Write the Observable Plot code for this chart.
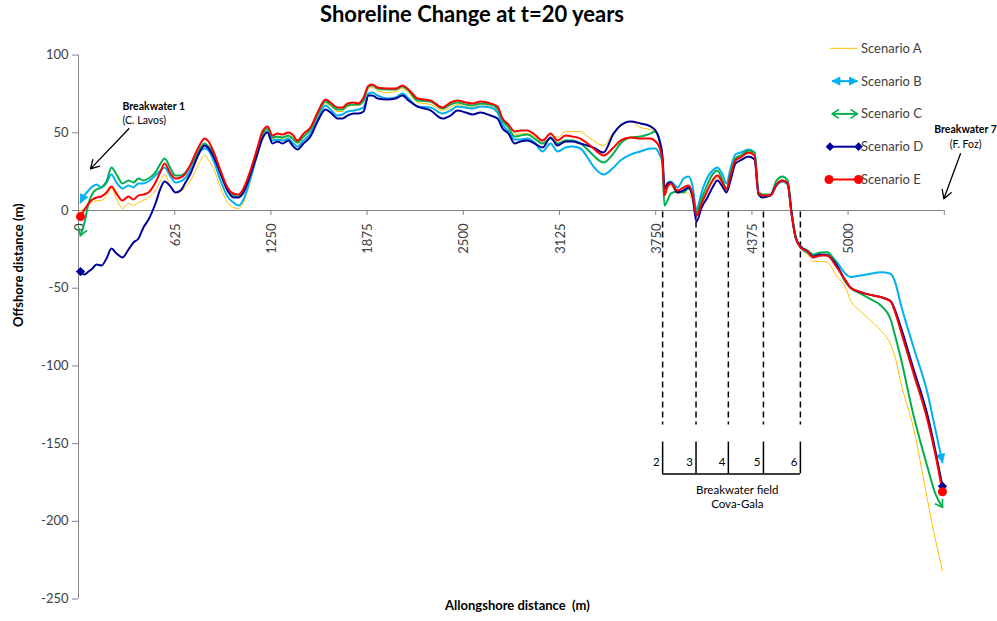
<!DOCTYPE html>
<html>
<head>
<meta charset="utf-8">
<script src="https://cdn.jsdelivr.net/npm/d3@7"></script>
<script src="https://cdn.jsdelivr.net/npm/@observablehq/plot@0.6"></script>
<style>
  html, body { margin: 0; padding: 0; background: #fff; }
  #title { width: 944px; height: 40px; line-height: 40px; text-align: center;
           font: bold 22px Lato, "Open Sans", sans-serif; color: #000; }
  #chart svg { display: block; overflow: visible; }
</style>
</head>
<body>
<div id="title">Shoreline Change at t=20 years</div>
<div id="chart"></div>
<script>
// Alongshore position of each profile (m)
const distance = [
  13, 39, 65, 91, 117, 149, 182, 214, 247, 286,
  325, 357, 390, 422, 455, 500, 533, 559, 598, 630,
  663, 695, 728, 760, 793, 819, 845, 877, 923, 968,
  1007, 1040, 1072, 1117, 1163, 1195, 1228, 1260, 1293, 1325,
  1364, 1390, 1423, 1462, 1507, 1553, 1605, 1637, 1683, 1715,
  1748, 1787, 1819, 1852, 1884, 1910, 1943, 2008, 2060, 2105,
  2144, 2203, 2287, 2365, 2417, 2462, 2514, 2560, 2612, 2677,
  2722, 2755, 2794, 2833, 2872, 2917, 2963, 3015, 3067, 3112,
  3164, 3209, 3261, 3307, 3346, 3411, 3476, 3521, 3586, 3651,
  3716, 3749, 3775, 3794, 3807, 3827, 3847, 3892, 3931, 3963,
  3989, 4015, 4048, 4086, 4119, 4151, 4184, 4210, 4236, 4268,
  4301, 4353, 4392, 4418, 4444, 4496, 4535, 4574, 4607, 4633,
  4659, 4691, 4736, 4775, 4821, 4866, 4918, 4983, 5016, 5081,
  5146, 5211, 5276, 5308, 5341, 5425, 5516, 5568, 5613
];

// Offshore shoreline position after 20 years (m), one array per scenario
const scenarioA = [
  0, 1.3, 3.2, 5.1, 6.4, 6.4, 9.7, 14.2, 7.7, 1.3,
  4.5, 3.2, 5.1, 6.4, 8.4, 12.9, 19.3, 23.2, 15.4, 11.6,
  12.2, 14.8, 19.3, 25.7, 32.2, 35.4, 32.2, 27.0, 14.8, 5.1,
  1.9, 1.3, 5.1, 18.7, 36.0, 47.6, 51.5, 46.3, 47.0, 46.3,
  47.6, 45.7, 43.1, 47.0, 51.5, 60.5, 68.9, 66.9, 63.7, 63.7,
  66.9, 67.6, 67.6, 70.1, 78.5, 79.2, 77.2, 75.9, 76.6, 78.5,
  75.9, 69.5, 68.2, 64.4, 66.3, 68.2, 66.9, 66.3, 68.2, 66.9,
  64.4, 57.9, 53.4, 48.9, 49.5, 49.5, 47.6, 45.7, 48.9, 47.0,
  50.8, 50.8, 50.8, 47.6, 45.0, 41.8, 50.2, 54.7, 57.3, 53.4,
  52.1, 50.2, 45.0, 33.5, 11.6, 14.2, 16.1, 10.9, 11.6, 10.9,
  6.4, -1.3, 6.4, 12.2, 18.0, 21.2, 17.4, 12.9, 21.9, 31.5,
  34.1, 36.7, 35.4, 11.6, 9.7, 10.3, 17.4, 19.3, 16.1, -3.2,
  -18.0, -24.4, -28.3, -32.8, -32.8, -33.4, -41.1, -49.5, -57.8, -64.9,
  -70.7, -77.1, -86.1, -95.1, -109.9, -140.1, -186.4, -212.1, -231.4
];
const scenarioB = [
  5.1, 9.7, 12.9, 15.4, 16.7, 14.8, 18.0, 23.2, 18.0, 14.2,
  16.1, 14.8, 17.4, 17.4, 18.7, 22.5, 25.7, 27.7, 21.9, 18.0,
  18.7, 21.2, 26.4, 32.2, 38.6, 39.9, 38.6, 32.2, 19.3, 9.0,
  5.1, 3.2, 7.1, 20.6, 36.7, 47.6, 50.8, 45.0, 45.7, 45.0,
  46.3, 43.8, 41.2, 45.0, 49.5, 58.6, 67.6, 65.0, 61.1, 61.8,
  63.7, 64.4, 65.0, 66.3, 75.3, 75.9, 74.0, 72.1, 72.7, 75.3,
  72.1, 66.9, 66.3, 62.4, 64.4, 66.9, 66.3, 65.6, 66.9, 66.3,
  63.1, 55.3, 50.8, 45.7, 45.7, 46.3, 43.8, 38.0, 43.1, 38.0,
  40.5, 41.2, 39.9, 34.1, 28.3, 23.2, 27.7, 32.2, 36.0, 38.0,
  39.9, 39.9, 36.0, 30.9, 12.9, 17.4, 18.7, 14.8, 20.6, 21.9,
  16.1, 0.6, 11.6, 21.2, 25.7, 27.7, 23.2, 17.4, 27.0, 36.0,
  37.3, 39.3, 37.3, 11.6, 9.7, 9.7, 16.1, 18.7, 16.7, -1.9,
  -16.7, -23.8, -27.0, -30.2, -28.9, -28.3, -32.1, -40.7, -42.8, -41.8,
  -40.7, -39.8, -40.7, -46.9, -59.8, -88.0, -117.6, -141.4, -162.0
];
const scenarioC = [
  -16.1, -7.7, 4.5, 10.9, 13.5, 14.8, 18.7, 27.7, 23.2, 17.4,
  19.3, 18.0, 20.6, 19.3, 20.6, 24.5, 30.2, 33.5, 27.0, 22.5,
  22.5, 24.5, 29.0, 34.1, 40.5, 43.1, 41.2, 36.7, 23.8, 14.2,
  9.7, 9.0, 12.2, 24.5, 39.3, 48.9, 52.8, 47.0, 47.6, 47.0,
  48.3, 46.3, 43.8, 47.6, 52.1, 61.8, 70.1, 68.2, 65.0, 65.0,
  67.6, 68.2, 68.2, 70.8, 79.8, 80.4, 78.5, 77.9, 77.9, 79.8,
  77.2, 70.8, 70.1, 65.6, 68.2, 69.5, 68.2, 67.6, 68.9, 68.2,
  65.6, 57.9, 53.4, 47.6, 48.3, 48.9, 46.3, 43.1, 46.3, 43.1,
  45.0, 45.0, 43.1, 39.3, 35.4, 30.9, 36.7, 43.1, 47.0, 47.6,
  49.5, 50.8, 45.0, 29.0, 3.2, 6.4, 10.9, 12.2, 11.6, 14.2,
  9.7, -1.3, 7.7, 16.7, 23.2, 25.7, 19.3, 14.2, 23.8, 33.5,
  35.4, 38.6, 37.3, 11.6, 10.3, 10.3, 19.3, 21.9, 19.3, -1.3,
  -16.7, -23.1, -25.7, -28.3, -27.0, -26.8, -33.2, -46.0, -49.7, -53.5,
  -57.0, -61.0, -70.0, -81.6, -94.5, -131.8, -165.2, -182.5, -190.9
];
const scenarioD = [
  -39.3, -41.2, -39.3, -37.3, -34.7, -35.4, -30.9, -24.5, -27.7, -30.2,
  -25.1, -20.6, -18.0, -10.9, -5.8, 4.5, 14.2, 18.7, 15.4, 11.6,
  12.9, 18.0, 23.8, 31.5, 38.6, 41.8, 39.9, 34.7, 23.8, 12.9,
  8.4, 8.4, 11.6, 23.2, 36.7, 46.3, 50.2, 43.1, 44.4, 43.1,
  45.0, 41.8, 39.3, 43.1, 47.6, 57.3, 65.0, 63.1, 59.2, 59.2,
  61.1, 62.4, 62.4, 63.7, 74.0, 74.0, 72.1, 71.4, 72.1, 74.0,
  70.8, 66.9, 64.4, 59.2, 61.1, 64.4, 63.1, 61.8, 63.1, 61.1,
  59.2, 52.8, 49.5, 43.1, 44.4, 45.0, 43.1, 40.5, 47.0, 41.8,
  44.4, 44.4, 43.1, 41.8, 40.5, 37.3, 49.5, 54.7, 57.3, 56.0,
  54.1, 51.5, 45.0, 35.4, 14.2, 17.4, 18.0, 11.6, 12.9, 14.8,
  9.0, -7.1, 1.9, 8.4, 14.8, 19.3, 15.4, 11.6, 19.3, 30.2,
  32.2, 34.7, 32.8, 10.3, 8.4, 9.7, 16.7, 19.3, 17.4, -1.9,
  -17.4, -23.1, -26.3, -29.6, -28.3, -28.9, -34.1, -45.0, -49.7, -52.5,
  -54.3, -55.7, -58.2, -64.9, -74.6, -102.0, -131.8, -155.0, -177.4
];
const scenarioE = [
  -3.9, 0.6, 4.5, 7.1, 8.4, 9.0, 11.6, 15.4, 10.9, 6.4,
  9.0, 7.1, 9.7, 10.3, 11.6, 18.0, 25.1, 30.2, 23.8, 20.6,
  21.2, 23.8, 29.6, 36.7, 43.1, 46.3, 44.4, 38.0, 25.7, 14.8,
  10.9, 10.3, 14.2, 25.7, 40.5, 50.8, 54.1, 48.3, 49.5, 48.9,
  50.2, 48.9, 45.0, 49.5, 53.4, 63.1, 71.4, 69.5, 66.3, 66.3,
  68.9, 69.5, 68.9, 72.7, 80.4, 81.1, 79.2, 78.5, 78.5, 80.4,
  77.9, 72.1, 70.8, 66.3, 69.5, 70.8, 69.5, 68.9, 70.1, 68.9,
  66.9, 59.2, 55.3, 50.8, 51.5, 51.5, 48.9, 45.0, 49.5, 45.0,
  48.3, 47.6, 46.3, 43.1, 39.9, 35.4, 40.5, 45.0, 47.0, 46.3,
  46.3, 44.4, 40.5, 32.2, 9.7, 15.4, 17.4, 12.9, 14.8, 16.1,
  10.9, -3.2, 4.5, 12.9, 19.3, 22.5, 18.0, 13.5, 22.5, 32.2,
  34.1, 37.3, 35.4, 10.9, 9.7, 9.7, 16.7, 19.3, 17.4, -2.6,
  -17.4, -23.8, -26.3, -30.2, -28.9, -29.0, -35.4, -45.0, -49.7, -52.5,
  -54.3, -55.7, -58.5, -66.2, -77.0, -104.8, -135.0, -157.5, -181.0
];

const scenarioNames = ["Scenario A", "Scenario B", "Scenario C", "Scenario D", "Scenario E"];
const scenarioColors = ["#FFC000", "#00B0F0", "#00B050", "#000099", "#FF0000"];
const scenarioWidths = [1, 2, 2, 2, 2];

// Axis ticks
const xTickValues = [0, 625, 1250, 1875, 2500, 3125, 3750, 4375, 5000, 5625];
const xTickLabels = ["0", "625", "1250", "1875", "2500", "3125", "3750", "4375", "5000"];
const yTickValues = [-250, -200, -150, -100, -50, 0, 50, 100];

// Breakwater field Cova-Gala (breakwaters 2 to 6)
const fieldBreakwaters = [3795, 4012, 4222, 4450, 4690];
const fieldLabels = ["2", "3", "4", "5", "6"];

// Annotations for the end breakwaters
const westLabels = [
  {x: 286, y: 66.9, text: "Breakwater 1", weight: "bold"},
  {x: 286, y: 57.9, text: "(C. Lavos)", weight: "normal"}
];
const eastLabels = [
  {x: 5763, y: 52.1, text: "Breakwater 7", weight: "bold"},
  {x: 5763, y: 42.3, text: "(F. Foz)", weight: "normal"}
];
const endArrows = [
  {x1: 327, y1: 52.6, x2: 78, y2: 26.8},
  {x1: 5730, y1: 36.5, x2: 5622, y2: 7.5}
];

const allSeries = [scenarioA, scenarioB, scenarioC, scenarioD, scenarioE].map((values, k) =>
  distance.map((x, i) => ({x, y: values[i], name: scenarioNames[k]}))
);
const ends = rows => [rows[0], rows[rows.length - 1]];

const axisGray = "#868686";
const labelGray = "#404040";
const font = "Lato, 'Open Sans', sans-serif";

const labelMarks = (labels, anchor) => ["bold", "normal"].map(weight =>
  Plot.text(labels.filter(d => d.weight === weight), {x: "x", y: "y", text: "text",
    textAnchor: anchor, fontWeight: weight, fontSize: 10.5, fill: "#000"}));

const plot = Plot.plot({
  width: 997,
  height: 581,
  marginTop: 14.6,
  marginBottom: 22.5,
  marginLeft: 78,
  marginRight: 53.2,
  x: {domain: [0, 5625], axis: null},
  y: {domain: [-250, 100], axis: null},
  style: {fontFamily: font, background: "transparent", overflow: "visible"},
  marks: [
    // axes
    Plot.ruleX([0], {stroke: axisGray}),
    Plot.ruleY([0], {stroke: axisGray}),
    Plot.ruleX(xTickValues, {x: d => d, y1: 0, y2: 0, insetBottom: -5, stroke: axisGray}),
    Plot.text(xTickLabels, {x: (d, i) => xTickValues[i], y: 0, text: d => d, rotate: -90,
      textAnchor: "end", dy: 13, dx: 1, fontSize: 13, fill: labelGray}),
    Plot.ruleY(yTickValues, {y: d => d, x1: 0, x2: 0, insetLeft: -6, stroke: axisGray}),
    Plot.text(yTickValues, {x: 0, y: d => d, text: d => String(d), textAnchor: "end",
      dx: -10, fontSize: 13, fill: labelGray}),
    Plot.text(["Offshore distance (m)"], {text: d => d, frameAnchor: "left", rotate: -90,
      dx: -60, fontSize: 13, fontWeight: "bold", fill: "#000"}),
    Plot.text(["Allongshore distance  (m)"], {text: d => d, frameAnchor: "bottom",
      dy: 11, dx: 6, fontSize: 13, fontWeight: "bold", fill: "#000"}),

    // breakwater field
    Plot.ruleX(fieldBreakwaters, {x: d => d, y1: -1, y2: -138, stroke: "#000",
      strokeWidth: 1.5, strokeDasharray: "6,4"}),
    Plot.ruleX(fieldBreakwaters, {x: d => d, y1: -149, y2: -169.5, stroke: "#000", strokeWidth: 1.5}),
    Plot.ruleY([-169.5], {x1: fieldBreakwaters[0], x2: fieldBreakwaters[fieldBreakwaters.length - 1],
      stroke: "#000", strokeWidth: 1.5}),
    Plot.text(fieldLabels, {x: (d, i) => fieldBreakwaters[i], y: -162, text: d => d,
      textAnchor: "end", dx: -3, fontSize: 11.5, fill: "#000"}),
    Plot.text(["Breakwater field\nCova-Gala"], {text: d => d, x: 4280, y: -184.2,
      fontSize: 11.5, lineHeight: 1.22, fill: "#000"}),

    // end breakwater annotations
    ...labelMarks(westLabels, "start"),
    ...labelMarks(eastLabels, "middle"),
    Plot.arrow(endArrows, {x1: "x1", y1: "y1", x2: "x2", y2: "y2", stroke: "#000",
      strokeWidth: 1.3, headLength: 11}),

    // shoreline series
    ...allSeries.map((rows, k) => Plot.line(rows, {x: "x", y: "y", stroke: scenarioColors[k],
      strokeWidth: scenarioWidths[k], curve: "monotone-x"})),
    Plot.dot(ends(allSeries[3]), {x: "x", y: "y", symbol: "diamond2", r: 4.2, fill: scenarioColors[3]}),
    Plot.dot(ends(allSeries[4]), {x: "x", y: "y", r: 4.5, fill: scenarioColors[4]})
  ]
});

// Arrowheads for scenarios B (filled) and C (open)
const svg = d3.select(plot);
const defs = svg.insert("defs", ":first-child");
function addArrow(id, color, filled) {
  const m = defs.append("marker")
    .attr("id", id)
    .attr("viewBox", "-10 -6 12 12")
    .attr("markerWidth", 12)
    .attr("markerHeight", 12)
    .attr("markerUnits", "userSpaceOnUse")
    .attr("refX", 0).attr("refY", 0)
    .attr("orient", "auto-start-reverse");
  m.append("path")
    .attr("d", filled ? "M-8,-4L0,0L-8,4Z" : "M-7,-4.5L0,0L-7,4.5")
    .attr("fill", filled ? color : "none")
    .attr("stroke", color)
    .attr("stroke-width", filled ? 0.8 : 1.6)
    .attr("stroke-linejoin", "round");
}
addArrow("arrow-b", scenarioColors[1], true);
addArrow("arrow-c", scenarioColors[2], false);
const linePaths = svg.selectAll('g[aria-label="line"] path').nodes();
d3.select(linePaths[1]).attr("marker-start", "url(#arrow-b)").attr("marker-end", "url(#arrow-b)");
d3.select(linePaths[2]).attr("marker-start", "url(#arrow-c)").attr("marker-end", "url(#arrow-c)");

// Legend
const legend = svg.append("g")
  .attr("font-family", font).attr("font-size", 13)
  .attr("fill", labelGray).attr("text-anchor", "start");
scenarioNames.forEach((name, k) => {
  const y = 8.3 + k * 32.8;
  const color = scenarioColors[k];
  const line = legend.append("line")
    .attr("x1", k === 1 || k === 2 ? 832 : 830).attr("x2", 857.5)
    .attr("y1", y).attr("y2", y)
    .attr("stroke", color).attr("stroke-width", scenarioWidths[k]);
  if (k === 1) line.attr("marker-start", "url(#arrow-b)").attr("marker-end", "url(#arrow-b)");
  if (k === 2) line.attr("marker-start", "url(#arrow-c)").attr("marker-end", "url(#arrow-c)");
  if (k === 3) {
    [830, 858.5].forEach(cx => legend.append("path")
      .attr("d", d3.symbol(d3.symbolDiamond2, 48)())
      .attr("transform", `translate(${cx},${y})`).attr("fill", color));
  }
  if (k === 4) {
    [829, 858.5].forEach(cx => legend.append("circle")
      .attr("cx", cx).attr("cy", y).attr("r", 4.5).attr("fill", color));
  }
  legend.append("text").attr("x", 861).attr("y", y).attr("dy", "0.35em").text(name);
});

document.getElementById("chart").appendChild(plot);
</script>
</body>
</html>
